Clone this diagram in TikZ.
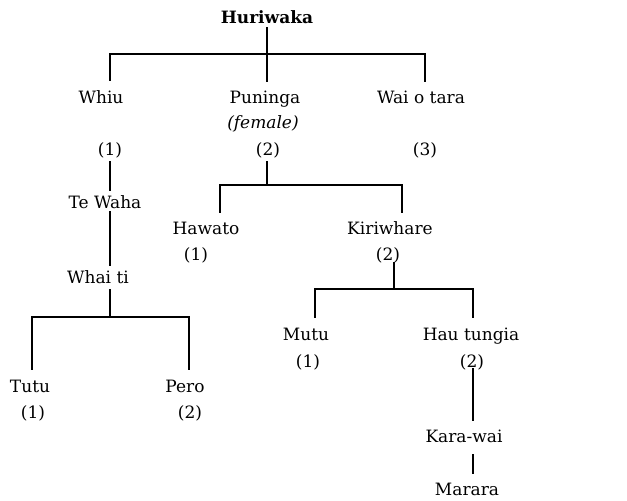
\documentclass[tikz,border=0pt]{standalone}
\usepackage{fontspec}
\setmainfont{DejaVu Serif}
\usetikzlibrary{calc}
\tikzset{
  lbl/.style={anchor=base, inner sep=0pt, font=\fontsize{17}{20}\selectfont},
  ln/.style={line width=1.8pt, line cap=rect}
}
\begin{document}
\begin{tikzpicture}[x=1pt, y=-1pt]
\useasboundingbox (0,0) rectangle (627,501);
% nodes
\node[lbl, font=\fontsize{17}{20}\selectfont\bfseries] (hur) at (267,23) {Huriwaka};
\node[lbl] (whiu) at (101,103) {Whiu};
\node[lbl] (pun) at (265,103) {Puninga};
\node[lbl, font=\fontsize{17}{20}\selectfont\itshape] (fem) at (263,128) {(female)};
\node[lbl] (wai) at (421,103) {Wai o tara};
\node[lbl] (n1) at (110,155) {(1)};
\node[lbl] (n2) at (268,155) {(2)};
\node[lbl] (n3) at (425,155) {(3)};
\node[lbl] (tewaha) at (105,208) {Te Waha};
\node[lbl] (haw) at (206,234) {Hawato};
\node[lbl] (hawn) at (196,260) {(1)};
\node[lbl] (kiri) at (390,234) {Kiriwhare};
\node[lbl] (kirin) at (388,260) {(2)};
\node[lbl] (whaiti) at (98,283) {Whai ti};
\node[lbl] (tutu) at (30,392) {Tutu};
\node[lbl] (tutun) at (33,418) {(1)};
\node[lbl] (pero) at (185,392) {Pero};
\node[lbl] (peron) at (190,418) {(2)};
\node[lbl] (mutu) at (306,340) {Mutu};
\node[lbl] (mutun) at (308,367) {(1)};
\node[lbl] (hau) at (471,340) {Hau tungia};
\node[lbl] (haun) at (472,367) {(2)};
\node[lbl] (kara) at (464,442) {Kara-wai};
\node[lbl] (marara) at (467,495) {Marara};
% junctions
\coordinate (j1) at (267,54);
\coordinate (j1L) at (110,54);
\coordinate (j1R) at (425,54);
\coordinate (j2) at (267,185);
\coordinate (j2L) at (220,185);
\coordinate (j2R) at (402,185);
\coordinate (j3) at (394,289);
\coordinate (j3L) at (315,289);
\coordinate (j3R) at (473,289);
\coordinate (j4) at (110,317);
\coordinate (j4L) at (32,317);
\coordinate (j4R) at (189,317);
% connectors
\draw[ln] ($(hur.base)+(0,5)$) -- (j1);
\draw[ln] (j1L) -- (j1R);
\draw[ln] (j1L) -- ($(j1L |- whiu.base)+(0,-23)$);
\draw[ln] (j1) -- ($(j1 |- pun.base)+(0,-22)$);
\draw[ln] (j1R) -- ($(j1R |- wai.base)+(0,-22)$);
\draw[ln] ($(n1.base)+(0,7)$) -- ($(n1.base |- tewaha.base)+(0,-18)$);
\draw[ln] ($(j1L |- tewaha.base)+(0,4)$) -- ($(j1L |- whaiti.base)+(0,-18)$);
\draw[ln] ($(j4 |- whaiti.base)+(0,7)$) -- (j4);
\draw[ln] (j4L) -- (j4R);
\draw[ln] (j4L) -- ($(j4L |- tutu.base)+(0,-23)$);
\draw[ln] (j4R) -- ($(j4R |- pero.base)+(0,-23)$);
\draw[ln] ($(j2 |- n2.base)+(0,7)$) -- (j2);
\draw[ln] (j2L) -- (j2R);
\draw[ln] (j2L) -- ($(j2L |- haw.base)+(0,-22)$);
\draw[ln] (j2R) -- ($(j2R |- kiri.base)+(0,-22)$);
\draw[ln] ($(j3 |- kirin.base)+(0,3)$) -- (j3);
\draw[ln] (j3L) -- (j3R);
\draw[ln] (j3L) -- ($(j3L |- mutu.base)+(0,-23)$);
\draw[ln] (j3R) -- ($(j3R |- hau.base)+(0,-23)$);
\draw[ln] ($(j3R |- haun.base)+(0,2)$) -- ($(j3R |- kara.base)+(0,-22)$);
\draw[ln] ($(j3R |- kara.base)+(0,13)$) -- ($(j3R |- marara.base)+(0,-22)$);
\end{tikzpicture}
\end{document}
